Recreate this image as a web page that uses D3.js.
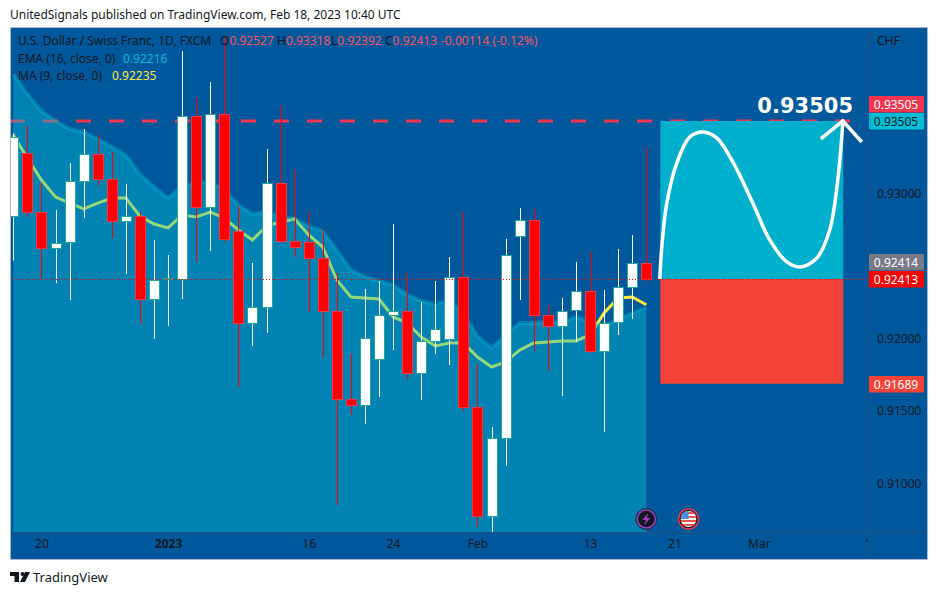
<!DOCTYPE html>
<html>
<head>
<meta charset="utf-8">
<script src="https://cdn.jsdelivr.net/npm/d3@7"></script>
<style>
  html, body { margin: 0; padding: 0; background: #fff; }
  text { font-family: "Noto Sans", sans-serif; font-size: 12px; fill: #131722; }
</style>
</head>
<body>
<div id="chart"></div>
<script>
// USD/CHF daily candles
const opens = [0.92848,0.93284,0.92876,0.92627,0.92669,0.93090,0.93277,0.93104,0.92814,0.92848,0.92275,0.92413,0.92413,0.93539,0.92911,0.93553,0.92745,0.92109,0.92220,0.93076,0.92676,0.92669,0.92558,0.92192,0.91584,0.91542,0.91860,0.92164,0.92192,0.91764,0.91985,0.91999,0.92427,0.91529,0.90775,0.91314,0.92710,0.92821,0.92164,0.92088,0.92199,0.92330,0.91916,0.92116,0.92358,0.92527];
const highs = [0.93422,0.93470,0.93076,0.92890,0.93215,0.93450,0.93408,0.93291,0.93070,0.92876,0.92683,0.92579,0.93989,0.93664,0.93774,0.94092,0.92918,0.92524,0.93311,0.93609,0.93166,0.92876,0.92759,0.92455,0.91895,0.92344,0.92399,0.92793,0.92455,0.92254,0.92399,0.92565,0.92876,0.91826,0.91390,0.92690,0.92904,0.92897,0.92233,0.92282,0.92531,0.92600,0.92337,0.92620,0.92717,0.93318];
const lows = [0.92540,0.92842,0.92413,0.92385,0.92268,0.92835,0.93056,0.92696,0.92448,0.92102,0.91999,0.92088,0.92275,0.92531,0.92607,0.92669,0.91667,0.91950,0.92040,0.92662,0.92565,0.92185,0.91874,0.90851,0.91473,0.91411,0.91598,0.91922,0.91722,0.91577,0.91895,0.91819,0.91501,0.90699,0.90660,0.91121,0.92268,0.91916,0.91777,0.91605,0.91978,0.91902,0.91356,0.92026,0.92137,0.92392];
const closes = [0.93396,0.92876,0.92627,0.92662,0.93090,0.93277,0.93104,0.92814,0.92848,0.92275,0.92406,0.92420,0.93539,0.92911,0.93553,0.92690,0.92109,0.92220,0.93076,0.92676,0.92634,0.92558,0.92192,0.91584,0.91542,0.92005,0.92164,0.92192,0.91764,0.91985,0.92068,0.92427,0.91529,0.90775,0.91314,0.92579,0.92821,0.92164,0.92088,0.92192,0.92330,0.91916,0.92109,0.92358,0.92524,0.92413];
const ema16 = [0.93830,0.93691,0.93574,0.93505,0.93450,0.93429,0.93381,0.93325,0.93270,0.93139,0.93049,0.92973,0.93056,0.93076,0.93083,0.93028,0.92924,0.92862,0.92876,0.92848,0.92828,0.92779,0.92745,0.92613,0.92475,0.92427,0.92399,0.92372,0.92303,0.92261,0.92240,0.92261,0.92178,0.92019,0.91936,0.92026,0.92109,0.92109,0.92116,0.92116,0.92151,0.92116,0.92081,0.92137,0.92178,0.92216];
const ma9 = [0.93408,0.93249,0.93097,0.92980,0.92938,0.92897,0.92938,0.92973,0.92973,0.92848,0.92793,0.92766,0.92855,0.92842,0.92876,0.92835,0.92752,0.92683,0.92779,0.92807,0.92828,0.92717,0.92634,0.92406,0.92289,0.92282,0.92275,0.92151,0.92109,0.92012,0.91950,0.91971,0.91971,0.91874,0.91805,0.91840,0.91922,0.91971,0.91978,0.91985,0.91985,0.92026,0.92178,0.92282,0.92289,0.92235];

// axes
const priceTicks = [0.93, 0.92, 0.915, 0.91];
const timeTickIdx = [2, 11, 21, 27, 33, 41, 47, 53, 61];
const timeTickLabels = ["20", "2023", "16", "24", "Feb", "13", "21", "Mar", "13"];

// long position drawing
const targetPrice = 0.93505, entryPrice = 0.92413, stopPrice = 0.91689;
const boxStart = 46, boxEnd = 59;
const pathIdx = [45.96,46.1,46.46,47.17,48.09,49.02,50.02,51.15,52.57,53.78,54.99,55.92,57.12,58.04,58.61,58.97];
const pathPrice = [0.92413,0.92634,0.92938,0.93215,0.93394,0.93429,0.93387,0.93222,0.92938,0.92683,0.92531,0.92496,0.92558,0.92752,0.93097,0.93491];
const arrowIdx = [57.41, 58.97, 60.32];
const arrowPrice = [0.93381, 0.93505, 0.93360];

const bg = "#00589c", areaCol = "#00bcd4", upBorder = "#26a69a", downBorder = "#f23645";

const width = 938, height = 595;
const pane = { left: 11, right: 868, top: 28, bottom: 532 };

const svg = d3.select("#chart").append("svg")
  .attr("width", width)
  .attr("height", height)
  .style("display", "block");

const x = d3.scaleLinear().domain([0, 45]).range([13.3, 646.3]);
const y = d3.scaleLinear().domain([entryPrice, targetPrice]).range([279, 121]);

svg.append("clipPath").attr("id", "pane-clip").append("rect")
  .attr("x", pane.left).attr("y", pane.top)
  .attr("width", pane.right - pane.left).attr("height", pane.bottom - pane.top);
svg.append("clipPath").attr("id", "time-clip").append("rect")
  .attr("x", pane.left).attr("y", pane.bottom)
  .attr("width", pane.right - pane.left).attr("height", 27);

// frame
svg.append("rect")
  .attr("x", 10.5).attr("y", 27.5).attr("width", 917).attr("height", 532)
  .attr("fill", bg).attr("stroke", "#a9b9d0");

const chart = svg.append("g").attr("clip-path", "url(#pane-clip)");

// target line sits under the EMA area
chart.append("line")
  .attr("x1", pane.left - 1).attr("x2", x(boxEnd) + 7)
  .attr("y1", y(targetPrice)).attr("y2", y(targetPrice))
  .attr("stroke", "#f7344f").attr("stroke-width", 3)
  .attr("stroke-dasharray", "15 18");

const idx = d3.range(opens.length);

chart.append("path")
  .attr("d", d3.line().x((i) => x(i)).y((i) => y(ma9[i]))(idx))
  .attr("fill", "none").attr("stroke", "#ffeb3b").attr("stroke-width", 3);

chart.append("path")
  .attr("d", d3.area().x((i) => x(i)).y0(pane.bottom).y1((i) => y(ema16[i]))(idx))
  .attr("fill", areaCol).attr("fill-opacity", 0.42);
chart.append("path")
  .attr("d", d3.line().x((i) => x(i)).y((i) => y(ema16[i]))(idx))
  .attr("fill", "none").attr("stroke", areaCol).attr("stroke-opacity", 0.35).attr("stroke-width", 4);

// position box
chart.append("rect")
  .attr("x", x(boxStart)).attr("width", x(boxEnd) - x(boxStart))
  .attr("y", y(targetPrice)).attr("height", y(entryPrice) - y(targetPrice))
  .attr("fill", "#00afcc");
chart.append("rect")
  .attr("x", x(boxStart)).attr("width", x(boxEnd) - x(boxStart))
  .attr("y", y(entryPrice)).attr("height", y(stopPrice) - y(entryPrice))
  .attr("fill", "#f44336");

// candles
const candles = chart.append("g").selectAll("g").data(idx).join("g");
candles.append("line")
  .attr("x1", (i) => Math.round(x(i)) + 0.5).attr("x2", (i) => Math.round(x(i)) + 0.5)
  .attr("y1", (i) => y(highs[i])).attr("y2", (i) => y(lows[i]))
  .attr("stroke", (i) => closes[i] >= opens[i] ? "#fff" : "#ff0000");
candles.append("rect")
  .attr("x", (i) => Math.round(x(i)) - 4.5)
  .attr("width", 10)
  .attr("y", (i) => Math.round(y(Math.max(opens[i], closes[i]))) + 0.5)
  .attr("height", (i) => Math.max(1, Math.round(Math.abs(y(opens[i]) - y(closes[i])))))
  .attr("fill", (i) => closes[i] >= opens[i] ? "#fff" : "#ff0000")
  .attr("stroke", (i) => closes[i] >= opens[i] ? upBorder : downBorder);

// last price line
chart.append("line")
  .attr("x1", pane.left).attr("x2", pane.right)
  .attr("y1", y(entryPrice) + 0.5).attr("y2", y(entryPrice) + 0.5)
  .attr("stroke", "#ff0000").attr("stroke-dasharray", "1 2");

// hand drawn arrow
chart.append("path")
  .attr("d", d3.line().x((d) => x(d[0])).y((d) => y(d[1])).curve(d3.curveCatmullRom)(pathIdx.map((v, i) => [v, pathPrice[i]])))
  .attr("fill", "none").attr("stroke", "#fff").attr("stroke-width", 3.5);
chart.append("path")
  .attr("d", d3.line().x((d) => x(d[0])).y((d) => y(d[1]))(arrowIdx.map((v, i) => [v, arrowPrice[i]])))
  .attr("fill", "none").attr("stroke", "#fff").attr("stroke-width", 3.5);
chart.append("text")
  .attr("x", 853).attr("y", 113).attr("text-anchor", "end")
  .style("font-family", "DejaVu Sans").style("font-size", "21px").style("font-weight", "bold").style("fill", "#fff")
  .text(d3.format(".5f")(targetPrice));

// pane separators
svg.append("line").attr("x1", pane.right + 0.5).attr("x2", pane.right + 0.5)
  .attr("y1", 28).attr("y2", 559).attr("stroke", "#1d4f84");
svg.append("line").attr("x1", 11).attr("x2", 927)
  .attr("y1", pane.bottom + 0.5).attr("y2", pane.bottom + 0.5).attr("stroke", "#1d4f84");

// price axis
const yAxisG = svg.append("g")
  .attr("transform", `translate(${pane.right},0)`)
  .call(d3.axisRight(y).tickValues(priceTicks).tickFormat(d3.format(".5f")).tickSize(0).tickPadding(9));
yAxisG.select(".domain").remove();
yAxisG.selectAll("text").style("font-size", "12px").style("fill", "#131722").style("font-family", "Noto Sans");

// time axis
const xAxisG = svg.append("g")
  .attr("clip-path", "url(#time-clip)")
  .append("g")
  .attr("transform", `translate(0,${pane.bottom})`)
  .call(d3.axisBottom(x).tickValues(timeTickIdx).tickFormat((d, i) => timeTickLabels[i]).tickSize(0).tickPadding(7));
xAxisG.select(".domain").remove();
xAxisG.selectAll("text").style("font-size", "12px").style("fill", "#131722").style("font-family", "Noto Sans")
  .style("font-weight", (d, i) => timeTickLabels[i] === "2023" ? "bold" : "normal");

// price tags
const tags = [
  { price: targetPrice, top: 96, fill: "#f7344f", color: "#fff" },
  { price: targetPrice, top: 113, fill: "#00bcd4", color: "#131722" },
  { price: 0.92414, top: 254, fill: "#787b86", color: "#fff" },
  { price: entryPrice, top: 271, fill: "#ff0000", color: "#fff" },
  { price: stopPrice, top: 376, fill: "#f44336", color: "#fff" }
];
const tagG = svg.append("g").selectAll("g").data(tags).join("g");
tagG.append("rect")
  .attr("x", pane.right + 1).attr("y", (d) => d.top)
  .attr("width", 55).attr("height", 16.5).attr("rx", 1)
  .attr("fill", (d) => d.fill);
tagG.append("text")
  .attr("x", 896).attr("y", (d) => d.top + 12.5).attr("text-anchor", "middle")
  .style("fill", (d) => d.color)
  .text((d) => d3.format(".5f")(d.price));

svg.append("text").attr("x", 877).attr("y", 45).text("CHF");

// legend
const legendRed = "#f7525f";
const line1 = svg.append("text").attr("x", 18).attr("y", 45);
line1.append("tspan").text("U.S. Dollar / Swiss Franc, 1D, FXCM");
[["O", "0.92527"], ["H", "0.93318"], ["L", "0.92392"], ["C", "0.92413"]].forEach((d, i) => {
  const t = line1.append("tspan").attr("x", [220, 277, 331, 385][i]).text(d[0]);
  line1.append("tspan").style("fill", legendRed).text(d[1]);
});
line1.append("tspan").attr("x", 441).style("fill", legendRed).text("-0.00114 (-0.12%)");

const line2 = svg.append("text").attr("x", 18).attr("y", 63);
line2.append("tspan").text("EMA (16, close, 0)");
line2.append("tspan").attr("x", 123).style("fill", "#00bcd4").text("0.92216");

const line3 = svg.append("text").attr("x", 18).attr("y", 80);
line3.append("tspan").text("MA (9, close, 0)");
line3.append("tspan").attr("x", 112).style("fill", "#ffeb3b").text("0.92235");

// event markers
const bolt = svg.append("g").attr("transform", `translate(${x(45)},519)`);
bolt.append("circle").attr("r", 10.5).attr("fill", "#131722").attr("stroke", "#1e3a5f").attr("stroke-width", 1);
bolt.append("circle").attr("r", 9).attr("fill", "#131722").attr("stroke", "#9c3fc0").attr("stroke-width", 1.5);
bolt.append("path").attr("d", "M2,-6L-4,1H-0.5L-2,6L4,-1H0.5Z").attr("fill", "#9c3fc0");

const flag = svg.append("g").attr("transform", `translate(${x(48)},519)`);
flag.append("circle").attr("r", 10).attr("fill", "#131722").attr("stroke", "#f23645").attr("stroke-width", 1.5);
flag.append("clipPath").attr("id", "flag-clip").append("circle").attr("r", 8);
const flagG = flag.append("g").attr("clip-path", "url(#flag-clip)");
flagG.append("rect").attr("x", -8).attr("y", -8).attr("width", 16).attr("height", 16).attr("fill", "#fff");
[-7, -3, 1, 5].forEach((v) => {
  flagG.append("rect").attr("x", -8).attr("y", v).attr("width", 16).attr("height", 2).attr("fill", "#ef5350");
});
flagG.append("rect").attr("x", -8).attr("y", -8).attr("width", 8).attr("height", 8).attr("fill", "#4a90e2");

// title and footer
svg.append("text").attr("x", 10).attr("y", 19).style("font-size", "12px")
  .text("UnitedSignals published on TradingView.com, Feb 18, 2023 10:40 UTC");

const logo = svg.append("g").attr("transform", "translate(10,572)").attr("fill", "#131722");
logo.append("path").attr("d", "M0,0H9V10H4.5V4H0Z");
logo.append("circle").attr("cx", 12.5).attr("cy", 2).attr("r", 2);
logo.append("path").attr("d", "M15,0H20L15,10H10Z");
svg.append("text").attr("x", 33).attr("y", 582).style("font-size", "13px").text("TradingView");
</script>
</body>
</html>
